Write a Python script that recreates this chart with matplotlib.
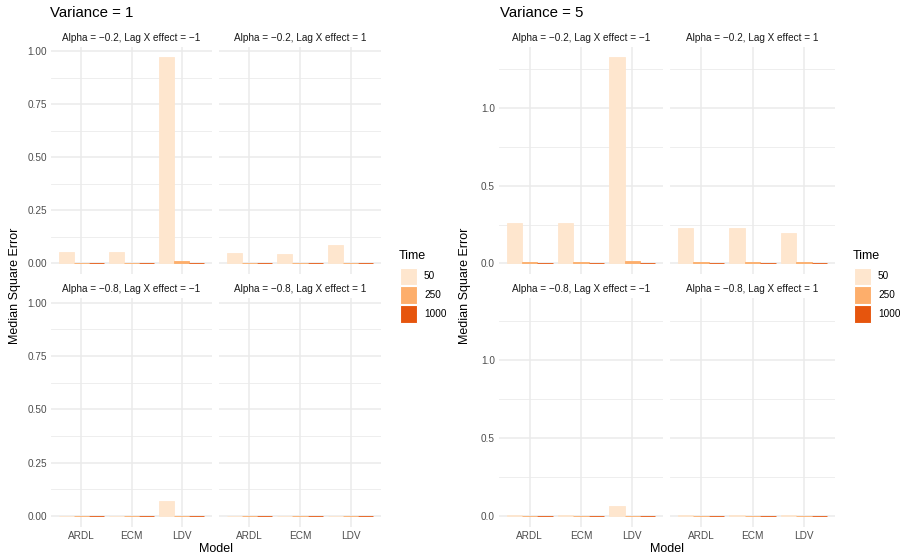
import matplotlib
matplotlib.use("Agg")
import matplotlib.pyplot as plt
import numpy as np
from matplotlib.patches import Rectangle

plt.rcParams['font.family'] = ['Liberation Sans', 'DejaVu Sans']

# data: rows = Time (50, 250, 1000), columns = Model (ARDL, ECM, LDV)
models = ['ARDL', 'ECM', 'LDV']
times = ['50', '250', '1000']
colors = ['#FEE6CE', '#FDAE6B', '#E6550D']
facet_titles = ['Alpha = \u22120.2, Lag X effect = \u22121',
                'Alpha = \u22120.2, Lag X effect = 1',
                'Alpha = \u22120.8, Lag X effect = \u22121',
                'Alpha = \u22120.8, Lag X effect = 1']

v1_a02_lagneg = [[0.053, 0.053, 0.973], [0.001, 0.001, 0.011], [0.001, 0.001, 0.002]]
v1_a02_lagpos = [[0.048, 0.046, 0.086], [0.001, 0.001, 0.001], [0.001, 0.001, 0.001]]
v1_a08_lagneg = [[0.001, 0.001, 0.072], [0.001, 0.001, 0.001], [0.001, 0.001, 0.001]]
v1_a08_lagpos = [[0.001, 0.001, 0.001], [0.001, 0.001, 0.001], [0.001, 0.001, 0.001]]

v5_a02_lagneg = [[0.258, 0.257, 1.329], [0.008, 0.008, 0.015], [0.002, 0.002, 0.002]]
v5_a02_lagpos = [[0.226, 0.226, 0.194], [0.008, 0.008, 0.008], [0.002, 0.002, 0.002]]
v5_a08_lagneg = [[0.008, 0.008, 0.066], [0.001, 0.001, 0.001], [0.001, 0.001, 0.001]]
v5_a08_lagpos = [[0.008, 0.008, 0.008], [0.001, 0.001, 0.001], [0.001, 0.001, 0.001]]

W, H = 900, 557
fig = plt.figure(figsize=(9, 5.57), dpi=100)


def px_axes(x0, y0, x1, y1):
    # pixel box (top-left origin) -> figure axes
    return fig.add_axes([x0 / W, 1 - y1 / H, (x1 - x0) / W, (y1 - y0) / H])


def draw_block(xoff, title, panels, major, minor, fmt):
    ymax = max(max(max(r) for r in p) for p in panels)
    ylim = (-0.05 * ymax, 1.05 * ymax)
    if xoff == 0:
        cols = [(51, 212), (219, 381)]
    else:
        cols = [(499, 663), (670, 835)]
    rows = [(46.7, 273.7), (298, 526.5)]
    x = np.arange(len(models))
    for i, data in enumerate(panels):
        r, c = divmod(i, 2)
        ax = px_axes(cols[c][0], rows[r][0], cols[c][1], rows[r][1])
        ax.set_axisbelow(True)
        ax.set_xlim(-0.6, 2.6)
        ax.set_ylim(*ylim)
        for t in range(3):
            ax.bar(x + (t - 1) * 0.3, data[t], width=0.3, color=colors[t],
                   edgecolor=colors[t], linewidth=0.6, zorder=2)
        ax.set_yticks(major)
        ax.set_yticks(minor, minor=True)
        ax.set_xticks(x)
        ax.grid(which='major', color='#EBEBEB', linewidth=1.1, zorder=0)
        ax.grid(which='minor', axis='y', color='#EBEBEB', linewidth=0.6, zorder=0)
        for s in ax.spines.values():
            s.set_visible(False)
        ax.tick_params(which='both', length=0, labelsize=7.2,
                       labelcolor='#4D4D4D', pad=3)
        if r == 1:
            ax.set_xticklabels(models)
        else:
            ax.set_xticklabels([])
        if c == 0:
            ax.set_yticklabels([fmt.format(v) for v in major])
        else:
            ax.set_yticklabels([])
        ax.set_title(facet_titles[i], fontsize=7.2, color='#1A1A1A', pad=4)
    fig.text((xoff + 50) / W, 1 - 13 / H, title, fontsize=10.8,
             ha='left', va='center')
    mid = (cols[0][0] + cols[1][1]) / 2
    fig.text(mid / W, 1 - 549 / H, 'Model', fontsize=9, ha='center', va='center')
    fig.text((xoff + 15) / W, 1 - 286 / H, 'Median Square Error', fontsize=9,
             rotation=90, ha='center', va='center')
    # legend
    lx = xoff + 400 if xoff == 0 else 854
    fig.text((lx - 1) / W, 1 - 256 / H, 'Time', fontsize=9, ha='left', va='center')
    for t in range(3):
        y0 = 267.7 + t * 18.8
        fig.patches.append(Rectangle((lx / W, 1 - (y0 + 17.3) / H), 17.3 / W,
                                     17.3 / H, transform=fig.transFigure,
                                     facecolor=colors[t], edgecolor='white',
                                     linewidth=0.8))
        fig.text((lx + 24) / W, 1 - (y0 + 8.6) / H, times[t], fontsize=7.2,
                 ha='left', va='center')


draw_block(0, 'Variance = 1',
           [v1_a02_lagneg, v1_a02_lagpos, v1_a08_lagneg, v1_a08_lagpos],
           [0, 0.25, 0.5, 0.75, 1.0], [0.125, 0.375, 0.625, 0.875], '{:.2f}')
draw_block(450, 'Variance = 5',
           [v5_a02_lagneg, v5_a02_lagpos, v5_a08_lagneg, v5_a08_lagpos],
           [0, 0.5, 1.0], [0.25, 0.75, 1.25], '{:.1f}')

fig.savefig('out.png', dpi=100)
